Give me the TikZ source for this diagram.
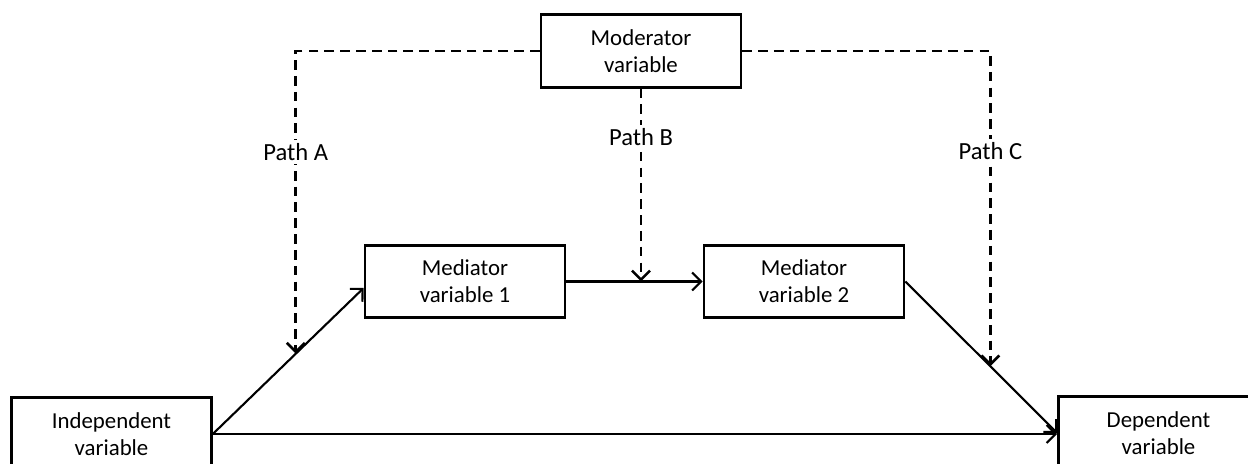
\documentclass[tikz,border=0pt]{standalone}
\usepackage{fontspec}
\setmainfont{Carlito}
\usepackage{tikz}
\usetikzlibrary{arrows.meta,positioning,calc}

\begin{document}
\begin{tikzpicture}[
			line width = 1.2pt,
			>={Straight Barb[length=1.8mm,width=3.6mm]},
			varbox/.style = {draw,line width=1.5pt,rectangle,minimum width=4cm,minimum height=1.45cm,inner sep=0pt,align=center,font=\fontsize{13pt}{15.5pt}\selectfont},
			pathlab/.style = {fill=white,inner sep=2pt,font=\fontsize{14pt}{16pt}\selectfont},
			modline/.style = {line width=1.5pt,dash pattern=on 5.5pt off 3.5pt,->}
			]
			\useasboundingbox (0,0) rectangle (24.96,9.28);
			\clip (0,0) rectangle (24.96,9.28);

			\node[varbox] (indep) at (2.23,0.60) {Independent\\variable};
			\node[varbox] (dep) at (23.17,0.62) {Dependent\\variable};
			\node[varbox] (moder) at (12.82,8.26) {Moderator\\variable};
			\node[varbox] (med1) at (9.30,3.65) {Mediator\\variable 1};
			\node[varbox] (med2) at (16.08,3.65) {Mediator\\variable 2};

			\draw[->] (indep.east) -- (dep.west |- indep.east);
			\draw[->] (indep.east) -- coordinate[pos=0.55] (pa) ([yshift=-1.3mm]med1.west);
			\draw[->] (med1.east) -- (med2.west);
			\draw[->] (med2.east) -- coordinate[pos=0.56] (pc) (dep.west);

			\draw[modline] (moder.west) -| node[pathlab,pos=0.667]{Path A} (pa);
			\draw[modline] (moder.south) -- node[pathlab,pos=0.25]{Path B} (moder.south |- med1.east);
			\draw[modline] (moder.east) -| node[pathlab,pos=0.659]{Path C} (pc);

		\end{tikzpicture}
\end{document}
